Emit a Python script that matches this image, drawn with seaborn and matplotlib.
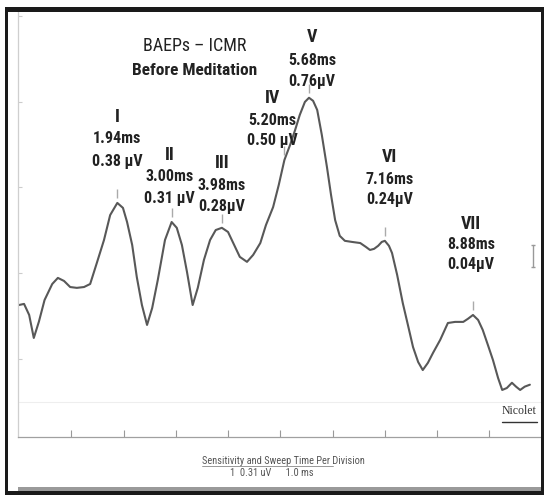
import numpy as np
import matplotlib
matplotlib.use("Agg")
import matplotlib.pyplot as plt
import seaborn as sns
from matplotlib.patches import Rectangle
from matplotlib.lines import Line2D

# waveform traced from the recording (time in ms, amplitude in uV)
time_ms = [0.02, 0.12, 0.22, 0.31, 0.41, 0.52, 0.67, 0.78, 0.90, 1.02,
           1.15, 1.29, 1.41, 1.54, 1.68, 1.80, 1.94, 2.05, 2.13, 2.23,
           2.32, 2.42, 2.52, 2.62, 2.73, 2.87, 3.00, 3.10, 3.20, 3.30,
           3.41, 3.51, 3.63, 3.75, 3.86, 3.98, 4.10, 4.22, 4.33, 4.47,
           4.59, 4.73, 4.84, 4.98, 5.09, 5.20, 5.31, 5.41, 5.50, 5.60,
           5.68, 5.76, 5.84, 5.93, 6.03, 6.11, 6.19, 6.28, 6.38, 6.52,
           6.68, 6.79, 6.87, 6.95, 7.03, 7.10, 7.16, 7.24, 7.30, 7.40,
           7.51, 7.61, 7.71, 7.81, 7.90, 8.00, 8.10, 8.24, 8.39, 8.53,
           8.69, 8.78, 8.88, 8.98, 9.07, 9.17, 9.27, 9.37, 9.45, 9.54,
           9.64, 9.72, 9.80, 9.89, 9.99]
amp_uv = [0.505, 0.509, 0.469, 0.386, 0.445, 0.523, 0.581, 0.603, 0.592, 0.570,
          0.567, 0.570, 0.581, 0.657, 0.740, 0.830, 0.874, 0.856, 0.805, 0.722,
          0.606, 0.505, 0.433, 0.494, 0.596, 0.740, 0.805, 0.784, 0.722, 0.624,
          0.505, 0.567, 0.668, 0.740, 0.776, 0.784, 0.769, 0.722, 0.679, 0.661,
          0.686, 0.729, 0.794, 0.859, 0.939, 1.029, 1.083, 1.138, 1.192, 1.239,
          1.254, 1.243, 1.210, 1.120, 1.004, 0.903, 0.812, 0.755, 0.737, 0.733,
          0.729, 0.715, 0.704, 0.708, 0.719, 0.733, 0.737, 0.719, 0.693, 0.614,
          0.512, 0.433, 0.353, 0.299, 0.270, 0.296, 0.332, 0.379, 0.440, 0.444,
          0.444, 0.455, 0.469, 0.451, 0.415, 0.361, 0.306, 0.241, 0.198, 0.205,
          0.224, 0.210, 0.198, 0.210, 0.217]

# peaks
peak_names = ['I', 'II', 'III', 'IV', 'V', 'VI', 'VII']
peak_latency = [1.94, 3.00, 3.98, 5.20, 5.68, 7.16, 8.88]
peak_amp_labels = ['0.38 µV', '0.31 µV', '0.28µV', '0.50 µV', '0.76µV', '0.24µV', '0.04µV']

# division marks (1.0 ms / 0.31 uV per division)
x_divisions = [1.04, 2.07, 3.08, 4.10, 5.11, 6.15, 7.16, 8.18, 9.19]
y_divisions = [0.31, 0.62, 0.93, 1.24, 1.55]

# label offsets in pixels from the peak: (dx, dy numeral, dy ms, dy uV)
label_offsets = [(0, 86, 64, 41), (-2, 67, 46, 24), (0, 65, 42, 21),
                 (-12, 62, 40, 20), (3, 61, 37, 16), (5, 84, 61, 41),
                 (-2, 91, 70, 50)]

sns.set_theme(style='white')
plt.rcParams['font.family'] = ['Roboto Condensed', 'DejaVu Sans']

W, H = 544, 495
fig = plt.figure(figsize=(W / 100, H / 100), dpi=100)
ax = fig.add_axes([17.9 / W, 58 / H, (541 - 17.9) / W, 425 / H])

sns.lineplot(x=time_ms, y=amp_uv, ax=ax, color='#585858', linewidth=1.5,
             sort=False, estimator=None)

ax.set_xlim(0, 10.207)
ax.set_ylim(0.028, 1.564)
ax.set_xticks(x_divisions)
ax.set_yticks(y_divisions)
ax.set_xticklabels([])
ax.set_yticklabels([])
ax.tick_params(axis='x', direction='in', length=5, width=0.8, color='#999999', bottom=True)
ax.tick_params(axis='y', direction='in', length=3, width=0.8, color='#cccccc', left=True)
for s in ['top', 'right']:
    ax.spines[s].set_visible(False)
ax.spines['left'].set_color('#cfcfcf')
ax.spines['left'].set_linewidth(0.9)
ax.spines['bottom'].set_color('#a0a0a0')
ax.spines['bottom'].set_linewidth(0.9)
ax.set_facecolor('white')
ax.axhline(0.155, color='#eeeeee', lw=0.8, zorder=0)

# peak markers and labels
for name, t, amp, off in zip(peak_names, peak_latency, peak_amp_labels, label_offsets):
    v = np.interp(t, time_ms, amp_uv)
    ax.vlines(t, v + 0.018, v + 0.05, color='#aaaaaa', lw=1)
    dx, d1, d2, d3 = off
    ax.annotate(name, (t, v), xytext=(dx, d1), textcoords='offset pixels',
                ha='center', va='center', fontsize=13, fontweight='bold', color='#222222')
    ax.annotate(f'{t:.2f}ms', (t, v), xytext=(dx, d2), textcoords='offset pixels',
                ha='center', va='center', fontsize=11.5, fontweight='bold', color='#222222')
    ax.annotate(amp, (t, v), xytext=(dx, d3), textcoords='offset pixels',
                ha='center', va='center', fontsize=11.5, fontweight='bold', color='#222222')

# calibration mark
ax.plot([10.05, 10.05], [0.643, 0.722], color='#999999', lw=1, marker='_', ms=3)

# titles
ax.text(0.3386, 0.92, 'BAEPs – ICMR', transform=ax.transAxes, ha='center', va='center',
        fontsize=13, color='#222222')
ax.text(0.3386, 0.8635, 'Before Meditation', transform=ax.transAxes, ha='center',
        va='center', fontsize=12.5, fontweight='bold', color='#222222')

# device text
fig.text(283 / W, (H - 461) / H, 'Sensitivity and Sweep Time Per Division', ha='center',
         va='center', fontsize=7.5, color='#555555')
fig.add_artist(Line2D([202 / W, 333 / W], [(H - 466) / H] * 2, color='#888888', lw=0.6))
fig.text(272 / W, (H - 473) / H, '1  0.31 uV      1.0 ms', ha='center', va='center',
         fontsize=7.5, color='#555555')
fig.text(519 / W, (H - 411) / H, 'Nicolet', ha='center', va='center', fontsize=8.5,
         color='#333333', family=['Liberation Serif', 'DejaVu Serif'])
fig.add_artist(Line2D([502 / W, 537 / W], [(H - 422) / H] * 2, color='#333333', lw=1))

# frame
fig.add_artist(Rectangle((5 / W, (H - 12) / H), 539 / W, 5 / H, color='#1a1a1a', lw=0))
fig.add_artist(Rectangle((5 / W, 0), 3 / W, 488 / H, color='#1a1a1a', lw=0))
fig.add_artist(Rectangle((541 / W, 0), 3 / W, 488 / H, color='#1a1a1a', lw=0))
fig.add_artist(Rectangle((5 / W, 0), 539 / W, 4 / H, color='#1a1a1a', lw=0))
fig.add_artist(Rectangle((18 / W, 4 / H), 523 / W, 4 / H, color='#9a9a9a', lw=0))

fig.savefig('out.png', dpi=100)
